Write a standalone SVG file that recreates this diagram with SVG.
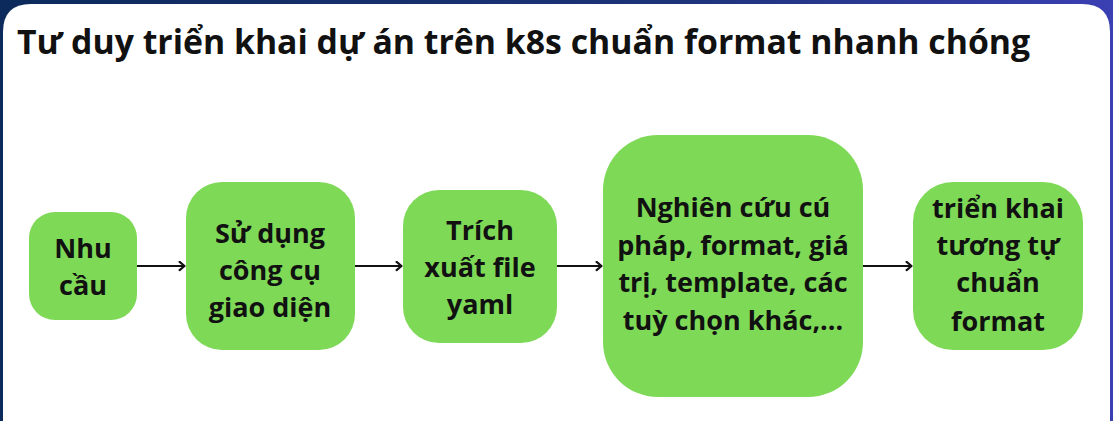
<svg xmlns="http://www.w3.org/2000/svg" width="1113" height="421" viewBox="0 0 1113 421">
  <defs>
    <linearGradient id="frame" x1="0" y1="0" x2="1" y2="0">
      <stop offset="0" stop-color="#0c2a5b"/>
      <stop offset="0.6" stop-color="#1c3378"/>
      <stop offset="1" stop-color="#3a3fb2"/>
    </linearGradient>
    <marker id="arrow" viewBox="0 0 10 12" refX="9" refY="6" markerWidth="9" markerHeight="11" markerUnits="userSpaceOnUse" orient="auto">
      <path d="M3,1.5 L8.5,6 L3,10.5" fill="none" stroke="#111" stroke-width="2.4" stroke-linecap="round" stroke-linejoin="round"/>
    </marker>
  </defs>
  <style>
    .node { fill: #7ed957; }
    .label { font-family: "Open Sans", "Noto Sans", "DejaVu Sans", sans-serif; font-weight: 700; font-size: 27px; fill: #111; text-anchor: middle; }
    .title { font-family: "Open Sans", "Noto Sans", "DejaVu Sans", sans-serif; font-weight: 700; font-size: 33.8px; fill: #111; }
    .conn { stroke: #111; stroke-width: 2.2; fill: none; }
  </style>
  <rect x="0" y="0" width="1113" height="421" fill="url(#frame)"/>
  <path d="M3,421 L3,32 Q3,4 31,4 L1082,4 Q1110,4 1110,32 L1110,421 Z" fill="#ffffff"/>
  <text class="title" x="17" y="54">Tư duy triển khai dự án trên k8s chuẩn format nhanh chóng</text>

  <g id="connectors">
    <line class="conn" x1="137" y1="266" x2="185" y2="266" marker-end="url(#arrow)"/>
    <line class="conn" x1="355" y1="266" x2="402" y2="266" marker-end="url(#arrow)"/>
    <line class="conn" x1="557" y1="266" x2="602" y2="266" marker-end="url(#arrow)"/>
    <line class="conn" x1="863" y1="266" x2="912" y2="266" marker-end="url(#arrow)"/>
  </g>

  <g id="node-nhu-cau">
    <rect class="node" x="29" y="212" width="108" height="108" rx="26"/>
    <text class="label" x="83" y="258">Nhu</text>
    <text class="label" x="83" y="295">cầu</text>
  </g>
  <g id="node-su-dung">
    <rect class="node" x="186" y="182" width="169" height="168" rx="36"/>
    <text class="label" x="270" y="243">Sử dụng</text>
    <text class="label" x="270" y="280">công cụ</text>
    <text class="label" x="270" y="317">giao diện</text>
  </g>
  <g id="node-trich-xuat">
    <rect class="node" x="403" y="190" width="154" height="153" rx="36"/>
    <text class="label" x="480" y="240">Trích</text>
    <text class="label" x="480" y="277">xuất file</text>
    <text class="label" x="480" y="314">yaml</text>
  </g>
  <g id="node-nghien-cuu">
    <rect class="node" x="603" y="135" width="260" height="262" rx="55"/>
    <text class="label" x="733" y="217">Nghiên cứu cú</text>
    <text class="label" x="733" y="255">pháp, format, giá</text>
    <text class="label" x="733" y="292">trị, template, các</text>
    <text class="label" x="733" y="330">tuỳ chọn khác,...</text>
  </g>
  <g id="node-trien-khai">
    <rect class="node" x="913" y="182" width="170" height="168" rx="40"/>
    <text class="label" x="998" y="218">triển khai</text>
    <text class="label" x="998" y="255">tương tự</text>
    <text class="label" x="998" y="292">chuẩn</text>
    <text class="label" x="998" y="331">format</text>
  </g>
</svg>
